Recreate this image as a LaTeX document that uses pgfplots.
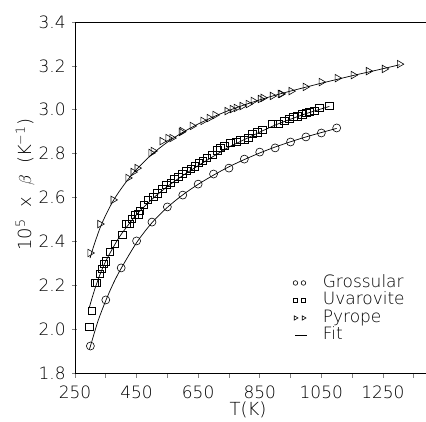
\documentclass[border=0pt]{standalone}
\usepackage{pgfplots}
\pgfplotsset{compat=1.18}
\usepackage{fontspec}
\setmainfont{DejaVu Sans ExtraLight}
\pgfplotsset{
  twomarks/.style={legend image code/.code={\draw[##1, mark size=#1] plot coordinates {(0pt,0pt) (8pt,0pt)};}},
  fitlegend/.style={legend image code/.code={\draw[##1] (0pt,0pt) -- (12pt,0pt);}},
}
\begin{document}
\fontsize{17}{20}\selectfont
\begin{tikzpicture}
\begin{axis}[
  name=ax,
  scale only axis, width=351pt, height=351pt,
  xmin=250, xmax=1390, ymin=1.8, ymax=3.4,
  axis x line=box, axis y line=left,
  axis line style={-, line width=0.8pt},
  xtick pos=bottom,
  xtick={250,450,650,850,1050,1250},
  minor xtick={350,550,750,950,1150,1350},
  ytick={1.8,2.0,2.2,2.4,2.6,2.8,3.0,3.2,3.4},
  major tick length=5pt, minor tick length=5pt,
  xtick style={yshift=-5pt, line width=0.7pt},
  ytick style={line width=0.7pt},
  yticklabel style={/pgf/number format/fixed, /pgf/number format/fixed zerofill, /pgf/number format/precision=1, xshift=-1pt},
  /pgf/number format/assume math mode=true,
  tick label style={font=\fontsize{17}{20}\selectfont},
  xticklabel style={/pgf/number format/1000 sep={}, yshift=-7pt},
  every axis y label/.style={at={(axis description cs:-0.142,0.536)}, rotate=90, anchor=center, font=\fontsize{18}{21}\selectfont},
  every axis x label/.style={at={(axis description cs:0.493,-0.105)}, anchor=center, font=\fontsize{18}{21}\selectfont},
  ylabel={10\textsuperscript{5}\ \ x\ \ $\beta$\ \ (K\textsuperscript{−1})},
  xlabel={T(K)},
  legend style={at={(axis description cs:0.621,0.282)}, anchor=north west, draw=none, fill=none,
    inner sep=0pt, row sep=0pt, column sep=13pt, font=\fontsize{17}{20}\selectfont,
    nodes={inner ysep=1pt, text height=12pt, text depth=3.5pt}},
  legend cell align=left,
]
\addplot[only marks, mark=o, mark size=4pt, mark options={line width=0.6pt}, twomarks=2.3pt]
coordinates {(300,1.923) (350,2.133) (400,2.279) (450,2.402) (500,2.488) (550,2.557) (600,2.611) (650,2.661) (700,2.707) (750,2.734) (800,2.775) (850,2.807) (900,2.826) (950,2.853) (1000,2.876) (1050,2.894) (1100,2.917)};
\addlegendentry{Grossular}
\addplot[only marks, mark=square, mark size=3.7pt, mark options={line width=0.6pt}, twomarks=2.3pt]
coordinates {(296,2.010) (305,2.083) (315,2.210) (321,2.210) (331,2.251) (338,2.274) (344,2.297) (351,2.310) (364,2.352) (380,2.388) (403,2.429) (416,2.479) (426,2.479) (435,2.502) (445,2.520) (455,2.524) (461,2.538) (474,2.566) (487,2.589) (504,2.602) (517,2.620) (533,2.639) (546,2.657) (562,2.666) (572,2.684) (585,2.693) (598,2.707) (611,2.721) (627,2.730) (640,2.743) (653,2.757) (666,2.766) (679,2.780) (696,2.794) (712,2.816) (722,2.826) (735,2.835) (754,2.848) (774,2.853) (787,2.862) (800,2.862) (813,2.871) (826,2.889) (842,2.898) (858,2.908) (891,2.935) (910,2.935) (930,2.949) (946,2.958) (959,2.967) (972,2.971) (988,2.980) (1001,2.985) (1011,2.990) (1027,2.994) (1044,3.008) (1076,3.017)};
\addlegendentry{Uvarovite}
\addplot[only marks, mark=triangle, mark size=4.3pt, mark options={rotate=-90, line width=0.6pt}, twomarks=2.5pt]
coordinates {(299,2.347) (331,2.479) (374,2.589) (422,2.689) (439,2.716) (452,2.734) (497,2.803) (504,2.812) (533,2.857) (552,2.871) (565,2.871) (595,2.898) (598,2.903) (631,2.926) (666,2.949) (686,2.962) (705,2.976) (744,2.994) (761,3.003) (774,3.008) (793,3.017) (813,3.026) (829,3.040) (852,3.049) (861,3.054) (891,3.063) (917,3.072) (920,3.072) (952,3.085) (998,3.104) (1050,3.126) (1102,3.144) (1154,3.158) (1203,3.176) (1255,3.186) (1304,3.208)};
\addlegendentry{Pyrope}
\addplot[black, smooth, line width=0.7pt, fitlegend]
coordinates {(297,1.908) (300,1.922) (325,2.038) (350,2.130) (375,2.210) (400,2.277) (450,2.394) (500,2.485) (550,2.555) (600,2.612) (650,2.660) (700,2.702) (750,2.740) (800,2.773) (850,2.803) (900,2.830) (950,2.854) (1000,2.876) (1050,2.896) (1100,2.915)};
\addlegendentry{Fit}
\addplot[black, smooth, line width=0.7pt, forget plot]
coordinates {(296,2.096) (305,2.14) (315,2.185) (330,2.245) (350,2.31) (375,2.375) (400,2.432) (450,2.522) (500,2.592) (550,2.650) (600,2.700) (650,2.745) (700,2.788) (750,2.830) (800,2.864) (850,2.898) (900,2.930) (950,2.957) (1000,2.982) (1050,3.004) (1076,3.015)};
\addplot[black, smooth, line width=0.7pt, forget plot]
coordinates {(299,2.324) (310,2.375) (331,2.46) (350,2.52) (374,2.585) (400,2.64) (425,2.687) (450,2.728) (500,2.797) (550,2.852) (600,2.897) (650,2.935) (700,2.968) (750,2.997) (800,3.022) (850,3.045) (900,3.066) (950,3.085) (1000,3.103) (1050,3.121) (1100,3.138) (1150,3.155) (1200,3.171) (1250,3.187) (1304,3.205)};
\end{axis}
\pgfresetboundingbox
\path ([xshift=-75pt,yshift=-49pt]ax.south west) rectangle ([yshift=22pt]ax.north east);
\end{tikzpicture}
\end{document}
